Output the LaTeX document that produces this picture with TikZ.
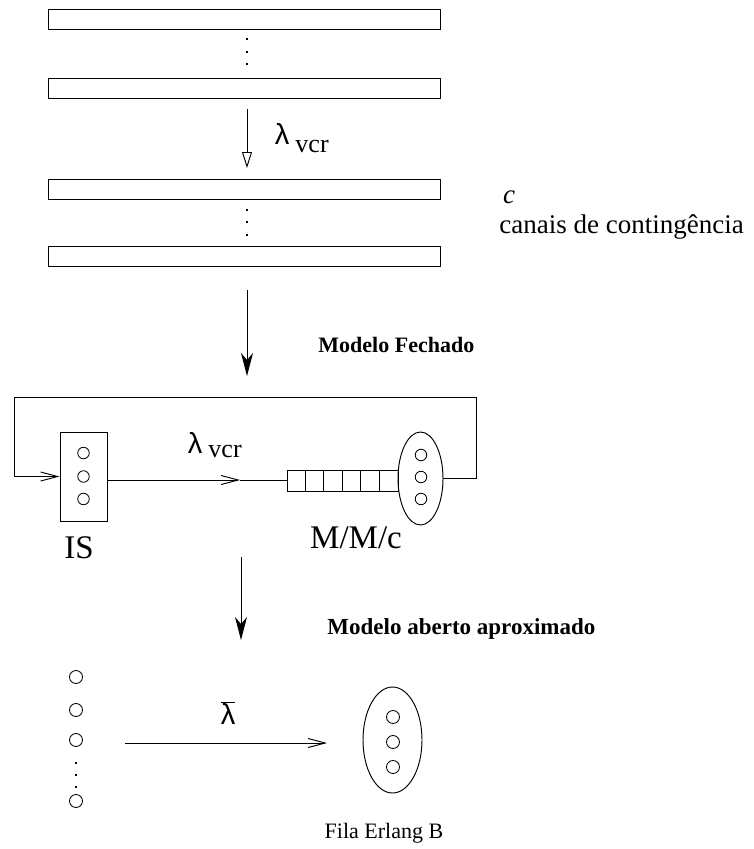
\documentclass[tikz,border=0pt]{standalone}
\usepackage{fontspec}
\setmainfont{Liberation Serif}
\newfontfamily\lamfont{Liberation Sans}
\usetikzlibrary{arrows.meta,shapes.geometric}
\begin{document}
\begin{tikzpicture}[x=1pt,y=-1pt,line width=0.95pt,
  chan/.style={draw,rectangle,inner sep=0,minimum width=392pt,minimum height=20pt},
  ball/.style={draw,circle,inner sep=0,minimum size=11.5pt,line width=0.85pt},
  bigball/.style={draw,circle,inner sep=0,minimum size=13pt,line width=0.85pt},
  dotm/.style={fill,rectangle,inner sep=0,minimum size=2.6pt},
  hollow/.style={-{Triangle[open,length=16pt,width=10pt]}},
  solidarr/.style={-{Stealth[length=23pt,width=12pt,inset=7pt]}},
  barb/.style={-{Straight Barb[length=17pt,width=9pt]}},
  txt/.style={inner sep=0,font=\fontsize{27}{30}\selectfont},
  btxt/.style={inner sep=0,anchor=west,font=\fontsize{23}{26}\selectfont\bfseries},
  lam/.style={inner sep=0,font=\fontsize{29}{30}\selectfont\lamfont},
  sub/.style={inner sep=0,anchor=base west,font=\fontsize{26}{28}\selectfont}]
\useasboundingbox (0,0) rectangle (753,849);
% top channels
\node[chan] (r1) at (244,19.5) {};
\node[dotm] (d1) at (247,39) {};
\node[dotm] (d2) at (247,52) {};
\node[dotm] (d3) at (247,64) {};
\node[chan] (r2) at (244,88) {};
\node[lam] (l1) at (282,134) {λ};
\node[sub] (s1) at (295,152) {vcr};
\node[chan] (r3) at (244,189.5) {};
\node[dotm] (d4) at (247,210) {};
\node[dotm] (d5) at (247,222) {};
\node[dotm] (d6) at (247,235) {};
\node[chan] (r4) at (244,256.5) {};
\draw[hollow,shorten <=11pt,shorten >=11pt] ([xshift=3pt]r2.south) -- ([xshift=3pt]r3.north);
\node[txt,font=\fontsize{27}{30}\selectfont\itshape] (cc) at (509,197) {c};
\node[txt,anchor=base west] (canais) at (499,233) {canais de contingência};
% arrow to closed model
\coordinate (a2s) at (247,290);
\coordinate (a2e) at (247,376);
\draw[solidarr] (a2s) -- (a2e);
\node[btxt,font=\fontsize{22}{26}\selectfont\bfseries] (mf) at (318,345) {Modelo Fechado};
% closed model
\node[draw,rectangle,inner sep=0,minimum width=47pt,minimum height=89pt] (is) at (83.5,476.5) {};
\node[ball] (i1) at (83.5,453) {};
\node[ball] (i2) at (83.5,476.5) {};
\node[ball] (i3) at (83.5,499) {};
\node[draw,rectangle,inner sep=0,minimum width=111pt,minimum height=21pt] (q) at (342.5,481) {};
\foreach \i in {1,...,5} \draw ([xshift=\i*18.5pt]q.north west) -- ([xshift=\i*18.5pt]q.south west);
\node[draw,ellipse,inner sep=0,minimum width=45pt,minimum height=93pt] (el) at (420.5,478.5) {};
\node[ball] (e1) at (421,455) {};
\node[ball] (e2) at (421,477) {};
\node[ball] (e3) at (421,499) {};
\coordinate (lr) at (476,397);
\coordinate (ll) at (14,397);
\draw[barb] (el.east) -| (lr) -- (ll) |- (is.west);
\coordinate (mid) at (240,480);
\draw[barb] (is.east |- mid) -- (mid);
\draw (mid) -- (q.west |- mid);
\node[lam] (l2) at (195,443) {λ};
\node[sub] (s2) at (208,457) {vcr};
\node[txt,font=\fontsize{33}{34}\selectfont] (mmc) at (356,538) {M/M/c};
\node[txt,font=\fontsize{33}{34}\selectfont] (isl) at (79,548) {IS};
% arrow to open model
\coordinate (a3s) at (241,557);
\coordinate (a3e) at (241,640);
\draw[solidarr] (a3s) -- (a3e);
\node[btxt] (ma) at (327,629) {Modelo aberto aproximado};
% open model
\node[bigball] (b1) at (76,677) {};
\node[bigball] (b2) at (76,710) {};
\node[bigball] (b3) at (76,740) {};
\node[dotm] (d7) at (76,763) {};
\node[dotm] (d8) at (76,775) {};
\node[dotm] (d9) at (76,787) {};
\node[bigball] (b4) at (76,801) {};
\node[draw,ellipse,inner sep=0,minimum width=59pt,minimum height=106pt] (eb) at (392.5,740) {};
\node[bigball] (f1) at (393,717) {};
\node[bigball] (f2) at (393,742) {};
\node[bigball] (f3) at (393,767) {};
\coordinate (a4s) at (125,743);
\coordinate (a4e) at (327,743);
\draw[barb] (a4s) -- (a4e);
\node[inner sep=0] (lb) at (228,713) {$\overline{\hbox{\fontsize{29}{30}\selectfont\lamfont λ}}$};
\node[txt,font=\fontsize{22}{26}\selectfont] (fe) at (384,833) {Fila Erlang B};
\end{tikzpicture}
\end{document}
